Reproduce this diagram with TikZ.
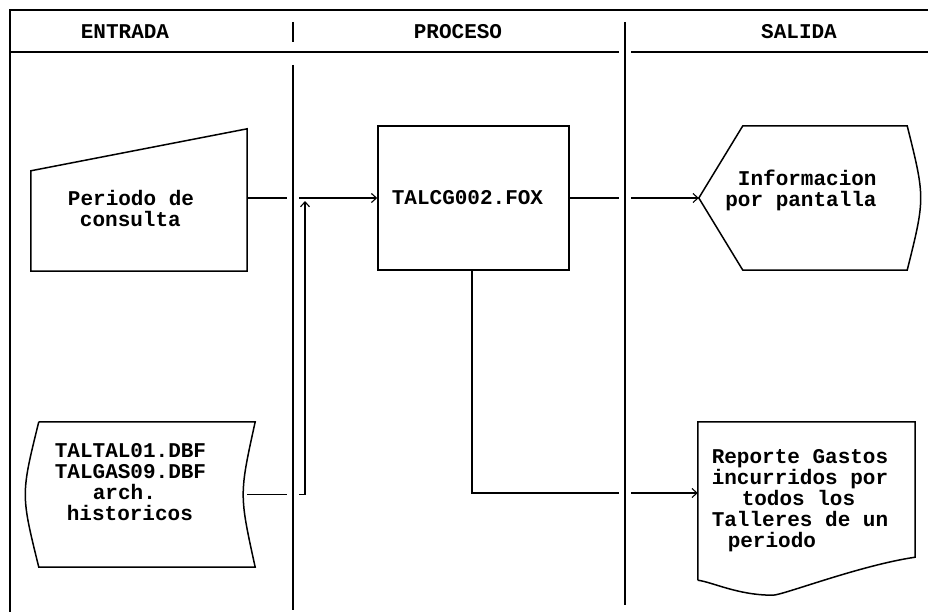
\documentclass[tikz,border=0pt]{standalone}
\usepackage{fontspec}
\setmonofont{Liberation Mono}
\usetikzlibrary{positioning,arrows.meta,calc}

\begin{document}
\begin{tikzpicture}[
      x=1pt, y=-1pt,
      font=\ttfamily\bfseries\fontsize{21}{21}\selectfont,
      frame/.style={line width=1.5pt},
      divider/.style={line width=1.5pt, preaction={draw=white, line width=12pt}},
      shp/.style={line width=1.5pt},
      box/.style={inner sep=0pt, align=left},
      arr/.style={-{Straight Barb[length=5pt,width=9pt]}, line width=1.1pt},
    ]
    \useasboundingbox[fill=white] (0,0) rectangle (928,615);

    % frame and column titles
    \draw[frame] (928,10) -- (10,10) -- (10,612);
    \draw[frame] (10,52) -- (928,52);
    \draw[frame] (293,22) -- (293,42);
    \node (hin) at (125,32) {ENTRADA};
    \node (hpro) at (458,32) {PROCESO};
    \node (hsal) at (799,32) {SALIDA};

    % entrada
    \node[box, minimum width=216pt, minimum height=142pt] (pc) at (139,200)
      {\rule{0pt}{32pt}Periodo de\hspace*{16pt}\\\hspace*{12pt}consulta};
    \draw[shp] (pc.south west) -- ([yshift=-42pt]pc.north west) -- (pc.north east)
      -- (pc.south east) -- cycle;

    \node[box, minimum width=225pt, minimum height=145pt] (files) at (142.5,494.5)
      {TALTAL01.DBF\hspace*{24pt}\\TALGAS09.DBF\\\hspace*{38pt}arch.\\
       \hspace*{12pt}historicos\rule[-25pt]{0pt}{25pt}};
    \draw[shp] ([xshift=9pt]files.north west) -- (files.north east)
      .. controls ($(files.east)+(-16,0)$) .. (files.south east)
      -- ([xshift=9pt]files.south west)
      .. controls ($(files.west)+(-9,0)$) .. ([xshift=9pt]files.north west);

    % proceso
    \node[box, draw, shp, minimum width=191pt, minimum height=144pt] (tal) at (473.5,198)
      {TALCG002.FOX\hspace*{12pt}};

    % salida
    \node[box, minimum width=217pt, minimum height=144pt] (disp) at (807.5,198)
      {\hspace*{12.6pt}Informacion\\por pantalla\hspace*{13pt}\rule[-20pt]{0pt}{20pt}};
    \draw[shp] (disp.west) -- ([xshift=44pt]disp.north west) -- ([xshift=-9pt]disp.north east)
      .. controls ([xshift=9pt]disp.east) .. ([xshift=-9pt]disp.south east)
      -- ([xshift=44pt]disp.south west) -- cycle;

    \node[box, minimum width=217pt, minimum height=158pt] (rep) at (806.5,501)
      {Reporte Gastos\hspace*{13pt}\\incurridos por\\\hspace*{30pt}todos los\\
       Talleres de un\\\hspace*{16pt}periodo};
    \draw[shp] (rep.south west) -- (rep.north west) -- (rep.north east)
      -- ([yshift=23pt]rep.south east)
      .. controls ([xshift=-55pt,yshift=15pt]rep.south east)
         and ([xshift=85pt,yshift=-15pt]rep.south west) .. ([xshift=75pt,yshift=-15pt]rep.south west)
      .. controls ([xshift=40pt,yshift=-15pt]rep.south west)
         and ([xshift=15pt,yshift=-2pt]rep.south west) .. (rep.south west);

    % flujos
    \coordinate (jn) at (305,201);
    \draw[arr] (pc.east |- tal.west) -- (tal.west);
    \draw[arr] ([xshift=-8pt]files.east) -| (jn);
    \draw[arr] (tal.east) -- (disp.west);
    \draw[arr] ([xshift=-1.5pt]tal.south) |- ([yshift=8pt]rep.west);

    % column dividers
    \draw[divider] (293,65) -- (293,610);
    \draw[divider] (625,22) -- (625,605);
  \end{tikzpicture}
\end{document}
